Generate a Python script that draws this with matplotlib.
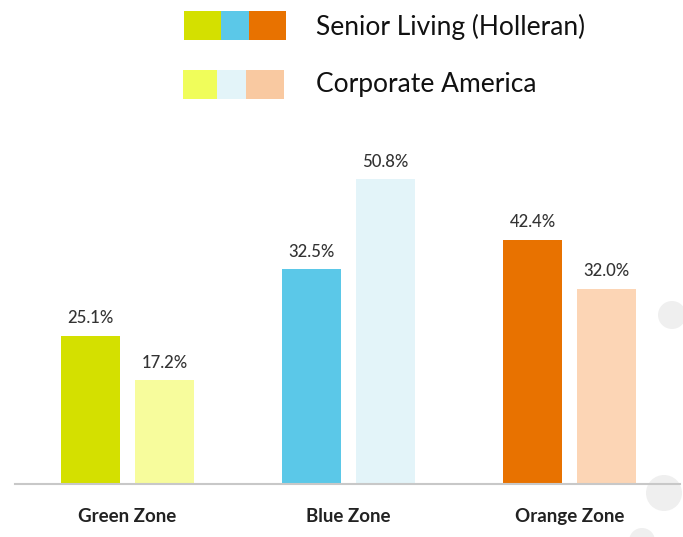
import matplotlib.pyplot as plt
from matplotlib.patches import Rectangle, Ellipse
import numpy as np

# data
zones = ["Green Zone", "Blue Zone", "Orange Zone"]
senior = [25.1, 32.5, 42.4]          # printed labels
corporate = [17.2, 50.8, 32.0]
# bar heights as drawn in the picture (the source chart is not to scale)
senior_drawn = [24.7, 35.8, 40.7]
corporate_drawn = [17.3, 50.8, 32.5]
senior_colors = ["#d4e000", "#5bc8e8", "#e87200"]
corp_colors = ["#f7fc9c", "#e3f4f9", "#fcd5b5"]
legend_corp_colors = ["#f0fd5a", "#e3f4f9", "#f9c9a1"]

W, H = 683, 537
fig = plt.figure(figsize=(W / 100, H / 100), dpi=100)

# faint decorative circles at right edge (pixel centre, radius)
for cx, cy, r in [(672, 315, 14), (664, 493, 18), (642, 541, 13)]:
    fig.add_artist(Ellipse((cx / W, 1 - cy / H), 2 * r / W, 2 * r / H,
                           transform=fig.transFigure, color="#efefef", lw=0, zorder=0))

# axes placed in pixel terms: baseline at y=484, x from 15 to 680
ax = fig.add_axes([15 / W, (H - 484) / H, (680 - 15) / W, (484 - 140) / H])
ax.patch.set_alpha(0)
x = np.arange(len(zones))
width = 0.267
off = 0.335
ax.bar(x, senior_drawn, width, color=senior_colors)
ax.bar(x + off, corporate_drawn, width, color=corp_colors)

for xs, hs, vs in [(x, senior_drawn, senior), (x + off, corporate_drawn, corporate)]:
    for xi, h, v in zip(xs, hs, vs):
        ax.text(xi, h + 1.6, f"{v:.1f}%", ha="center", va="bottom",
                fontsize=12, color="#333333", family="Lato", fontweight="medium")

ax.set_xlim(-0.342, 2.667)
ax.set_ylim(0, (484 - 140) / 6)
ax.set_xticks(x + off / 2)
ax.set_xticklabels(zones, fontsize=13.5, fontweight="bold", color="#222222", family="Lato")
ax.tick_params(axis="x", length=0, pad=17)
ax.set_yticks([])
for s in ["top", "right", "left"]:
    ax.spines[s].set_visible(False)
ax.spines["bottom"].set_color("#c8c8c8")
ax.spines["bottom"].set_linewidth(1.5)

# legend drawn by hand in figure pixels
def px_rect(x0, y0, x1, y1, c):
    fig.add_artist(Rectangle((x0 / W, 1 - y1 / H), (x1 - x0) / W, (y1 - y0) / H,
                             transform=fig.transFigure, color=c, lw=0))

for (a, b), c in zip([(184, 221), (221, 249), (249, 286)], senior_colors):
    px_rect(a, 11, b, 40, c)
for (a, b), c in zip([(183, 217), (217, 246), (246, 284)], legend_corp_colors):
    px_rect(a, 70, b, 99, c)
fig.text(316 / W, 1 - 27 / H, "Senior Living (Holleran)", fontsize=19, va="center",
         color="#111111", family="Lato")
fig.text(316 / W, 1 - 84 / H, "Corporate America", fontsize=19, va="center",
         color="#111111", family="Lato")

fig.savefig("out.png", dpi=100)
